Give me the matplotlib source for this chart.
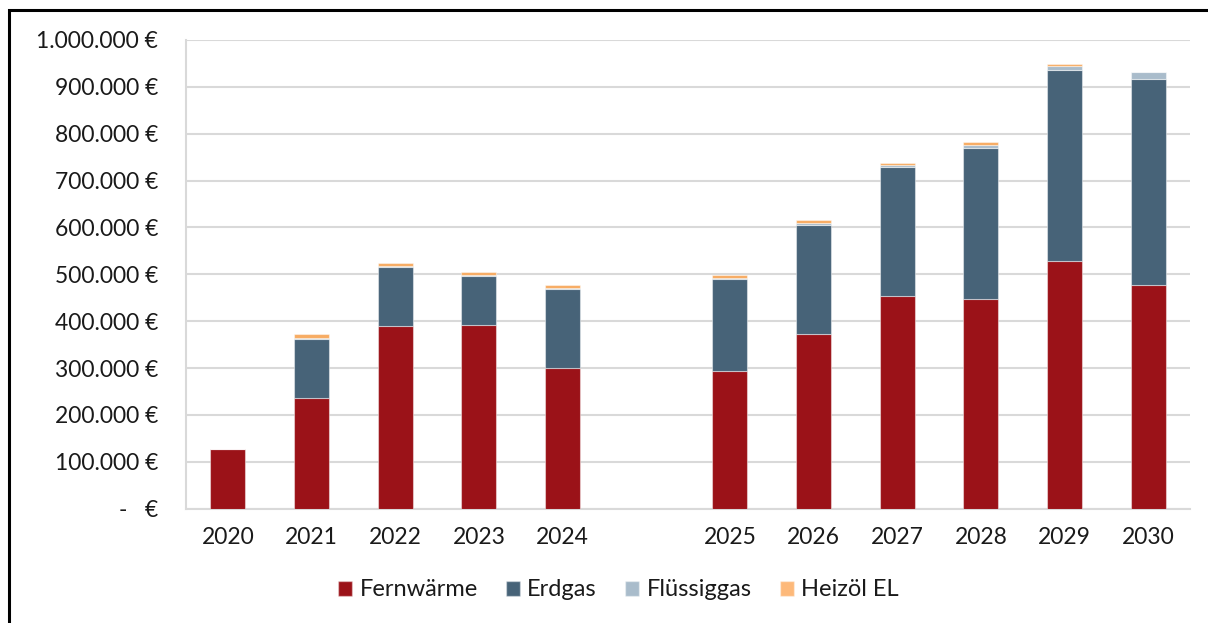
import matplotlib
matplotlib.use("Agg")
import matplotlib.pyplot as plt
from matplotlib.patches import Rectangle, Patch
import numpy as np

categories = ["2020", "2021", "2022", "2023", "2024", "", "2025", "2026", "2027", "2028", "2029", "2030"]
fernwaerme = [127000, 237000, 389000, 391000, 301000, 0, 294000, 372000, 453000, 447000, 528000, 478000]
erdgas     = [0, 126000, 127000, 106000, 168000, 0, 196000, 234000, 275000, 322000, 407000, 438000]
fluessiggas = [0, 2000, 2000, 2000, 2000, 0, 3000, 4000, 6000, 8000, 9000, 15000]
heizoel    = [0, 7000, 7000, 5000, 6000, 0, 5000, 6000, 4000, 5000, 5000, 0]
series_names = ["Fernwärme", "Erdgas", "Flüssiggas", "Heizöl EL"]
colors = ["#9B1218", "#476378", "#A9BCCB", "#F7AC63"]
legend_colors = ["#9B1218", "#476378", "#A9BCCB", "#FDB97A"]
yticks = [0, 100000, 200000, 300000, 400000, 500000, 600000, 700000, 800000, 900000, 1000000]

def fmt(v):
    if v == 0:
        return "-   €"
    return f"{v:,.0f}".replace(",", ".") + " €"

plt.rcParams['font.family'] = ['Lato', 'DejaVu Sans']

fig = plt.figure(figsize=(12.08, 6.23), dpi=100)
ax = fig.add_axes([186/1208, 1-508.7/623, (1190-186)/1208, (508.7-40)/623])

x = np.arange(len(categories))
bottom = np.zeros(len(categories))
data = [fernwaerme, erdgas, fluessiggas, heizoel]
for vals, c, name in zip(data, colors, series_names):
    vals = np.array(vals, dtype=float)
    ax.bar(x, vals, width=0.42, bottom=bottom, color=c, edgecolor=(1, 1, 1, 0.45),
           linewidth=0.8, label=name, zorder=3)
    bottom += vals

ax.set_xlim(-0.5, len(categories) - 0.5)
ax.set_ylim(0, 1000000)
ax.set_yticks(yticks)
ax.set_yticklabels([fmt(v) for v in yticks], fontsize=16.5, color="#1a1a1a")
ax.set_xticks([i for i, c in enumerate(categories) if c])
ax.set_xticklabels([c for c in categories if c], fontsize=16.5, color="#1a1a1a")
ax.tick_params(axis='both', length=0)
ax.tick_params(axis='y', pad=20)
ax.tick_params(axis='x', pad=13)
ax.grid(axis='y', color="#D9D9D9", linewidth=1.5, zorder=0)
for s in ['top', 'right']:
    ax.spines[s].set_visible(False)
for s in ['left', 'bottom']:
    ax.spines[s].set_color("#D9D9D9")
    ax.spines[s].set_linewidth(1.5)

handles = [Patch(facecolor=c, edgecolor=(1, 1, 1, 0.4)) for c in legend_colors]
fig.legend(handles, series_names, loc='center', bbox_to_anchor=(618.5/1208, 1-590/623),
           ncol=4, frameon=False, fontsize=17, handlelength=0.6, handleheight=0.6,
           handletextpad=0.3, columnspacing=1.2, labelcolor="#1a1a1a")

# outer black frame (left and top visible)
fig.patches.append(Rectangle((9/1208, -0.05), 1.2, 1-10/623+0.05, transform=fig.transFigure,
                             fill=False, edgecolor="black", linewidth=2.2))

fig.savefig("out.png", dpi=100, facecolor="white")
